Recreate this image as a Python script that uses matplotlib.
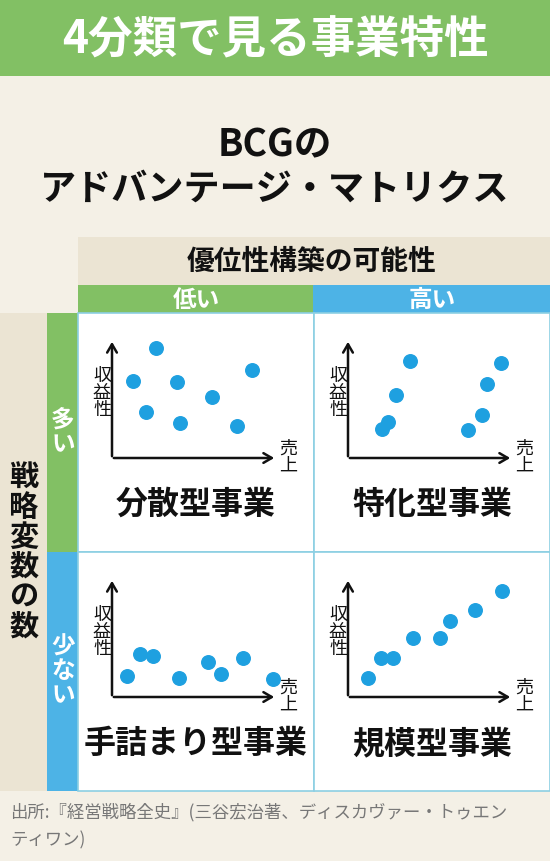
import matplotlib
matplotlib.use("Agg")
import matplotlib.pyplot as plt
from matplotlib.patches import Rectangle

plt.rcParams['font.family'] = ['Noto Sans CJK JP', 'DejaVu Sans']

title = "4分類で見る事業特性"
subtitle = ["BCGの", "アドバンテージ・マトリクス"]
col_header = "優位性構築の可能性"
col_labels = ["低い", "高い"]
row_header = "戦略変数の数"
row_labels = ["多い", "少ない"]
cell_names = ["分散型事業", "特化型事業", "手詰まり型事業", "規模型事業"]
source = ["出所:『経営戦略全史』(三谷宏治著、ディスカヴァー・トゥエン", "ティワン)"]

# sales / profit of the points in each quadrant
sales_dispersed = [21, 44, 34, 65, 68, 100, 125, 140]
profit_dispersed = [77, 110, 46, 76, 35, 61, 32, 88]
sales_specialized = [34, 40, 48, 62, 120, 134, 139, 153]
profit_specialized = [29, 36, 63, 97, 28, 43, 74, 95]
sales_stalemate = [15, 28, 41, 67, 96, 109, 131, 161]
profit_stalemate = [21, 43, 41, 19, 35, 23, 39, 18]
sales_volume = [20, 33, 45, 65, 92, 102, 127, 154]
profit_volume = [19, 39, 39, 59, 59, 76, 87, 106]

GREEN = "#82c064"
BLUE = "#4db3e6"
BEIGE = "#f4f0e6"
HBEIGE = "#ebe4d3"
DOT = "#1ea0e0"
BORDER = "#8ccfe3"

W, H = 550, 861
fig = plt.figure(figsize=(W / 100, H / 100), dpi=100)
ax = fig.add_axes([0, 0, 1, 1])
ax.set_xlim(0, W)
ax.set_ylim(H, 0)
ax.axis("off")

def rect(x, y, w, h, fc, ec="none", lw=0):
    ax.add_patch(Rectangle((x, y), w, h, facecolor=fc, edgecolor=ec, linewidth=lw))

rect(0, 0, W, H, BEIGE)
rect(0, 0, W, 76, GREEN)
ax.text(W / 2, 40, title, color="white", fontsize=32, fontweight="bold", ha="center", va="center")
ax.text(W / 2, 145, subtitle[0], color="#111", fontsize=27, fontweight="bold", ha="center", va="center")
ax.text(W / 2, 190, subtitle[1], color="#111", fontsize=26, fontweight="bold", ha="center", va="center")

rect(78, 237, W - 78, 48, HBEIGE)
ax.text(312, 262, col_header, color="#111", fontsize=20, fontweight="bold", ha="center", va="center")
rect(78, 285, 235, 28, GREEN)
rect(313, 285, 237, 28, BLUE)
ax.text(196, 300, col_labels[0], color="white", fontsize=17, fontweight="bold", ha="center", va="center")
ax.text(432, 300, col_labels[1], color="white", fontsize=17, fontweight="bold", ha="center", va="center")

rect(0, 313, 47, 478, HBEIGE)
ax.text(24, 552, "\n".join(row_header), color="#111", fontsize=21, fontweight="bold",
        ha="center", va="center", linespacing=1.0)
rect(47, 313, 31, 239, GREEN)
rect(47, 552, 31, 239, BLUE)
ax.text(63, 432, "\n".join(row_labels[0]), color="white", fontsize=17, fontweight="bold",
        ha="center", va="center", linespacing=1.0)
ax.text(63, 671, "\n".join(row_labels[1]), color="white", fontsize=17, fontweight="bold",
        ha="center", va="center", linespacing=1.0)

cells = [
    (78, 313, sales_dispersed, profit_dispersed),
    (314, 313, sales_specialized, profit_specialized),
    (78, 552, sales_stalemate, profit_stalemate),
    (314, 552, sales_volume, profit_volume),
]
for i, (cx, cy, sx, py) in enumerate(cells):
    rect(cx, cy, 236, 239, "white", BORDER, 1.2)
    ox, oy = cx + 34, cy + 145
    ax.annotate("", xy=(ox, cy + 26), xytext=(ox, oy + 1),
                arrowprops=dict(arrowstyle="->,head_width=0.35,head_length=0.6", lw=1.8, color="#111"))
    ax.annotate("", xy=(ox + 165, oy), xytext=(ox - 1, oy),
                arrowprops=dict(arrowstyle="->,head_width=0.35,head_length=0.6", lw=1.8, color="#111"))
    ax.text(ox - 10, oy - 65, "収\n益\n性", fontsize=13, ha="center", va="center",
            linespacing=0.95, color="#111")
    ax.text(ox + 176, oy - 1, "売\n上", fontsize=13, ha="center", va="center",
            linespacing=0.95, color="#111")
    ax.scatter([ox + s for s in sx], [oy - p for p in py], s=95, color=DOT, zorder=5)
    ax.text(cx + 118, cy + 192, cell_names[i], fontsize=23, fontweight="bold",
            ha="center", va="center", color="#111")

ax.text(10, 812, source[0], fontsize=12.5, color="#777", ha="left", va="center")
ax.text(10, 840, source[1], fontsize=12.5, color="#777", ha="left", va="center")

fig.savefig("out.png", dpi=100)
